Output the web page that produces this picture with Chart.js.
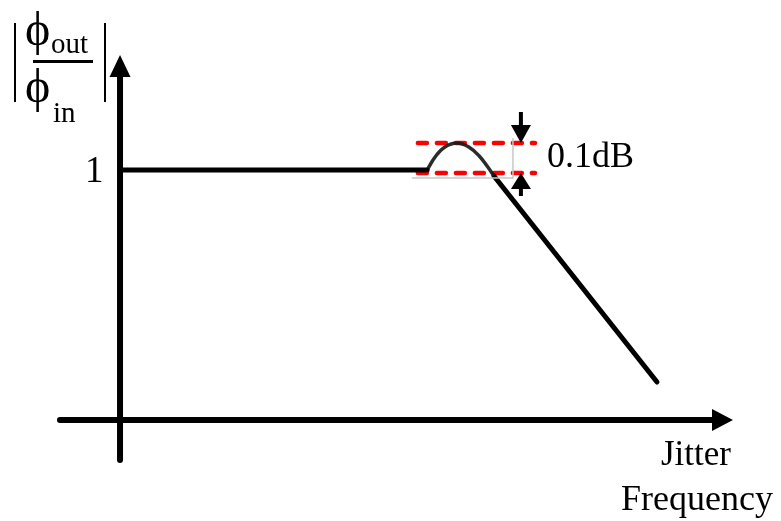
<!DOCTYPE html>
<html lang="en">
<head>
<meta charset="UTF-8">
<title>Jitter transfer</title>
<script src="https://cdn.jsdelivr.net/npm/chart.js"></script>
<style>
    body { margin: 0; background: #fff; }
    #wrap { position: relative; width: 781px; height: 521px; overflow: hidden; }
    #plot { position: absolute; left: 0; top: 0; }
    .lbl { position: absolute; font-family: "Liberation Serif", "Times New Roman", serif; line-height: 1; white-space: nowrap; color: #000; }
    .bar { position: absolute; background: #000; }
</style>
</head>
<body>
<div id="wrap">
    <canvas id="plot" width="781" height="521"></canvas>
    <!-- |phi_out / phi_in| -->
    <div class="bar" style="left:14px; top:23px; width:2px; height:79px;"></div>
    <div class="bar" style="left:104px; top:23px; width:2px; height:79px;"></div>
    <div class="bar" style="left:33px; top:60px; width:60px; height:2.5px;"></div>
    <span class="lbl" style="left:25px; top:5px; font-size:48px;">ϕ</span>
    <span class="lbl" style="left:51px; top:29px; font-size:29px;">out</span>
    <span class="lbl" style="left:25px; top:62px; font-size:48px;">ϕ</span>
    <span class="lbl" style="left:53px; top:98px; font-size:29px;">in</span>
    <span class="lbl" style="left:85px; top:151px; font-size:37px;">1</span>
    <span class="lbl" style="left:547px; top:137px; font-size:36px;">0.1dB</span>
    <span class="lbl" style="left:661px; top:436px; font-size:35px;">Jitter</span>
    <span class="lbl" style="left:621px; top:480px; font-size:36px;">Frequency</span>
</div>
<script>
// response curve (normalised frequency, |phi_out/phi_in|)
const flatFreq = [0, 5.01];
const flatGain = [1.0, 1.0];
const peakFreq = [5.01, 5.14, 5.30, 5.50, 5.69, 5.86, 6.00, 6.10];
const peakGain = [1.0, 1.052, 1.092, 1.108, 1.092, 1.056, 1.012, 0.976];
const rollFreq = [6.10, 8.76];
const rollGain = [0.976, 0.152];

// 0.1 dB ripple markers
const rippleFreq = [4.81, 6.77];
const rippleTop = 1.108;
const rippleBottom = 0.988;
const guideFreq = [4.76, 6.41];
const guideGain = [0.968, 1.128];
const markerFreq = 6.54;
const downArrowGain = [1.232, 1.108];
const upArrowGain = [0.896, 0.988];

// axes
const xAxisFreq = [-0.98, 10.0];
const yAxisGain = [-0.16, 1.46];

function pts(xs, ys) {
    return xs.map(function (x, i) { return { x: x, y: ys[i] }; });
}

// draws arrow datasets: shaft up to the head, then a filled triangle at the last point
const arrowPlugin = {
    id: 'arrows',
    afterDatasetsDraw: function (chart) {
        const ctx = chart.ctx;
        const xs = chart.scales.x, ys = chart.scales.y;
        chart.data.datasets.forEach(function (ds) {
            if (!ds.arrow) return;
            const a = ds.data[0], b = ds.data[ds.data.length - 1];
            const x0 = xs.getPixelForValue(a.x), y0 = ys.getPixelForValue(a.y);
            const x1 = xs.getPixelForValue(b.x), y1 = ys.getPixelForValue(b.y);
            const len = Math.hypot(x1 - x0, y1 - y0);
            const ux = (x1 - x0) / len, uy = (y1 - y0) / len;
            const bx = x1 - ux * ds.arrow.len, by = y1 - uy * ds.arrow.len;
            const hw = ds.arrow.width / 2;
            ctx.save();
            ctx.strokeStyle = '#000';
            ctx.fillStyle = '#000';
            ctx.lineWidth = ds.arrow.shaft;
            ctx.lineCap = ds.arrow.cap || 'butt';
            ctx.beginPath();
            ctx.moveTo(x0, y0);
            ctx.lineTo(bx + ux, by + uy);
            ctx.stroke();
            ctx.beginPath();
            ctx.moveTo(x1, y1);
            ctx.lineTo(bx - uy * hw, by + ux * hw);
            ctx.lineTo(bx + uy * hw, by - ux * hw);
            ctx.closePath();
            ctx.fill();
            ctx.restore();
        });
    }
};

const ctx = document.getElementById('plot').getContext('2d');
new Chart(ctx, {
    type: 'scatter',
    data: {
        datasets: [
            { data: [{ x: guideFreq[0], y: guideGain[0] }, { x: guideFreq[1], y: guideGain[0] }, { x: guideFreq[1], y: guideGain[1] }],
              showLine: true, borderColor: '#c8c8c8', borderWidth: 1.5, pointRadius: 0 },
            { data: pts(flatFreq, flatGain), showLine: true, borderColor: '#000', borderWidth: 5, borderCapStyle: 'round', pointRadius: 0 },
            { data: pts(peakFreq, peakGain), showLine: true, borderColor: 'rgba(25,25,25,0.92)', borderWidth: 3.5, tension: 0.4, pointRadius: 0 },
            { data: pts(rollFreq, rollGain), showLine: true, borderColor: '#000', borderWidth: 5, borderCapStyle: 'round', pointRadius: 0 },
            { data: pts(rippleFreq, [rippleTop, rippleTop]), showLine: true, borderColor: '#ff0000', borderWidth: 4.5,
              borderDash: [9, 10], borderDashOffset: -3, borderCapStyle: 'round', pointRadius: 0 },
            { data: pts(rippleFreq, [rippleBottom, rippleBottom]), showLine: true, borderColor: '#ff0000', borderWidth: 4.5,
              borderDash: [9, 10], borderDashOffset: -3, borderCapStyle: 'round', pointRadius: 0 },
            { data: pts([markerFreq, markerFreq], downArrowGain), showLine: false, pointRadius: 0, arrow: { len: 18, width: 20, shaft: 4 } },
            { data: pts([markerFreq, markerFreq], upArrowGain), showLine: false, pointRadius: 0, arrow: { len: 16, width: 20, shaft: 4 } },
            { data: pts(xAxisFreq, [0, 0]), showLine: false, pointRadius: 0, arrow: { len: 21, width: 22, shaft: 6, cap: 'round' } },
            { data: pts([0, 0], yAxisGain), showLine: false, pointRadius: 0, arrow: { len: 22, width: 21, shaft: 6, cap: 'round' } }
        ]
    },
    options: {
        responsive: false,
        animation: false,
        events: [],
        layout: { padding: 0 },
        plugins: { legend: { display: false }, tooltip: { enabled: false } },
        scales: {
            x: { type: 'linear', display: false, min: -1.958, max: 10.783 },
            y: { type: 'linear', display: false, min: -0.404, max: 1.68 }
        }
    },
    plugins: [arrowPlugin]
});
</script>
</body>
</html>
